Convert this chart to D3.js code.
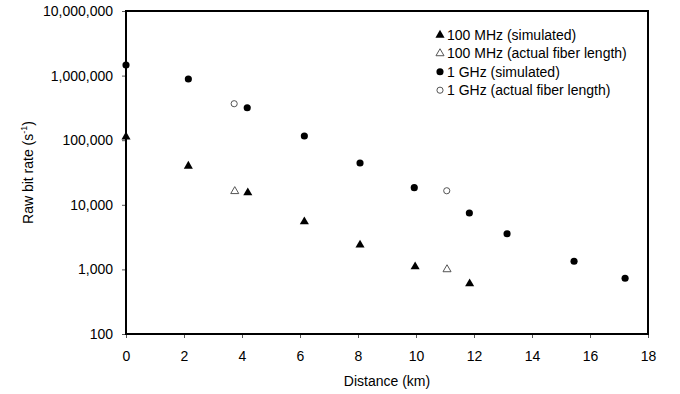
<!DOCTYPE html>
<html>
<head>
<meta charset="utf-8">
<script src="https://cdn.jsdelivr.net/npm/d3@7"></script>
<style>
  body { margin: 0; background: #fff; }
  svg text { font-family: "Liberation Sans", Arial, sans-serif; font-size: 14px; fill: #000; }
</style>
</head>
<body>
<div id="chart"></div>
<script>
// distances (km) and raw bit rates (1/s)
const distSim100 = [0, 2.15, 4.2, 6.15, 8.07, 9.97, 11.85];
const rateSim100 = [113000, 39800, 15400, 5470, 2390, 1100, 600];
const distAct100 = [3.75, 11.07];
const rateAct100 = [16200, 1000];
const distSim1G = [0, 2.15, 4.18, 6.15, 8.07, 9.94, 11.84, 13.14, 15.45, 17.21];
const rateSim1G = [1460000, 885000, 318000, 116000, 44400, 18400, 7470, 3570, 1335, 728];
const distAct1G = [3.73, 11.06];
const rateAct1G = [367000, 16500];

const xTicks = [0, 2, 4, 6, 8, 10, 12, 14, 16, 18];
const yTicks = [100, 1000, 10000, 100000, 1000000, 10000000];
const legendLabels = ["100 MHz (simulated)", "100 MHz (actual fiber length)", "1 GHz (simulated)", "1 GHz (actual fiber length)"];

const width = 680, height = 394;
const margin = { top: 11, right: 32, bottom: 60, left: 126 };

const svg = d3.select("#chart").append("svg")
    .attr("width", width)
    .attr("height", height);

const x = d3.scaleLinear().domain([0, 18]).range([margin.left, width - margin.right]);
const y = d3.scaleLog().domain([100, 1e7]).range([height - margin.bottom, margin.top]);

// axes
const xAxis = svg.append("g")
    .attr("transform", `translate(0,${y(100)})`)
    .call(d3.axisBottom(x).tickValues(xTicks).tickSize(4).tickSizeOuter(0).tickPadding(13).tickFormat(d3.format("d")));
const yAxis = svg.append("g")
    .attr("transform", `translate(${x(0)},0)`)
    .call(d3.axisLeft(y).tickValues(yTicks).tickSize(4).tickSizeOuter(0).tickPadding(9).tickFormat(d3.format(",")));

[xAxis, yAxis].forEach(a => {
    a.select(".domain").remove();
    a.selectAll(".tick line").attr("stroke", "#555");
    a.selectAll("text").attr("font-family", null).attr("font-size", null);
});

// plot frame
svg.append("rect")
    .attr("x", x(0)).attr("y", y(1e7))
    .attr("width", x(18) - x(0)).attr("height", y(100) - y(1e7))
    .attr("fill", "none").attr("stroke", "#000").attr("stroke-width", 2);

// axis titles
svg.append("text")
    .attr("x", (x(0) + x(18)) / 2).attr("y", 386)
    .attr("text-anchor", "middle")
    .text("Distance (km)");

const yl = svg.append("text")
    .attr("transform", `translate(33,${(y(100) + y(1e7)) / 2}) rotate(-90)`)
    .attr("text-anchor", "middle");
yl.append("tspan").text("Raw bit rate (s");
yl.append("tspan").attr("dy", -6).style("font-size", "9px").text("-1");
yl.append("tspan").attr("dy", 6).text(")");

// markers
const tri = (size) => d3.symbol().type(d3.symbolTriangle).size(size)();
const circ = (size) => d3.symbol().type(d3.symbolCircle).size(size)();

const series = [
    { xs: distSim100, ys: rateSim100, path: tri(36), fill: "#000", stroke: "none" },
    { xs: distAct100, ys: rateAct100, path: tri(28), fill: "#fff", stroke: "#555" },
    { xs: distSim1G, ys: rateSim1G, path: circ(40), fill: "#000", stroke: "none" },
    { xs: distAct1G, ys: rateAct1G, path: circ(30), fill: "#fff", stroke: "#555" }
];

series.forEach(s => {
    svg.append("g").selectAll("path")
        .data(s.xs.map((d, i) => [d, s.ys[i]]))
        .join("path")
        .attr("d", s.path)
        .attr("transform", d => `translate(${x(d[0])},${y(d[1])})`)
        .attr("fill", s.fill)
        .attr("stroke", s.stroke)
        .attr("stroke-width", 1);
});

// legend
const legend = svg.append("g").attr("transform", "translate(440,35)");
legendLabels.forEach((label, i) => {
    const s = series[i];
    const row = legend.append("g").attr("transform", `translate(0,${i * 18.4})`);
    row.append("path")
        .attr("d", s.path)
        .attr("fill", s.fill)
        .attr("stroke", s.stroke)
        .attr("stroke-width", 1);
    row.append("text")
        .attr("x", 7)
        .attr("dy", "0.35em")
        .text(label);
});
</script>
</body>
</html>
